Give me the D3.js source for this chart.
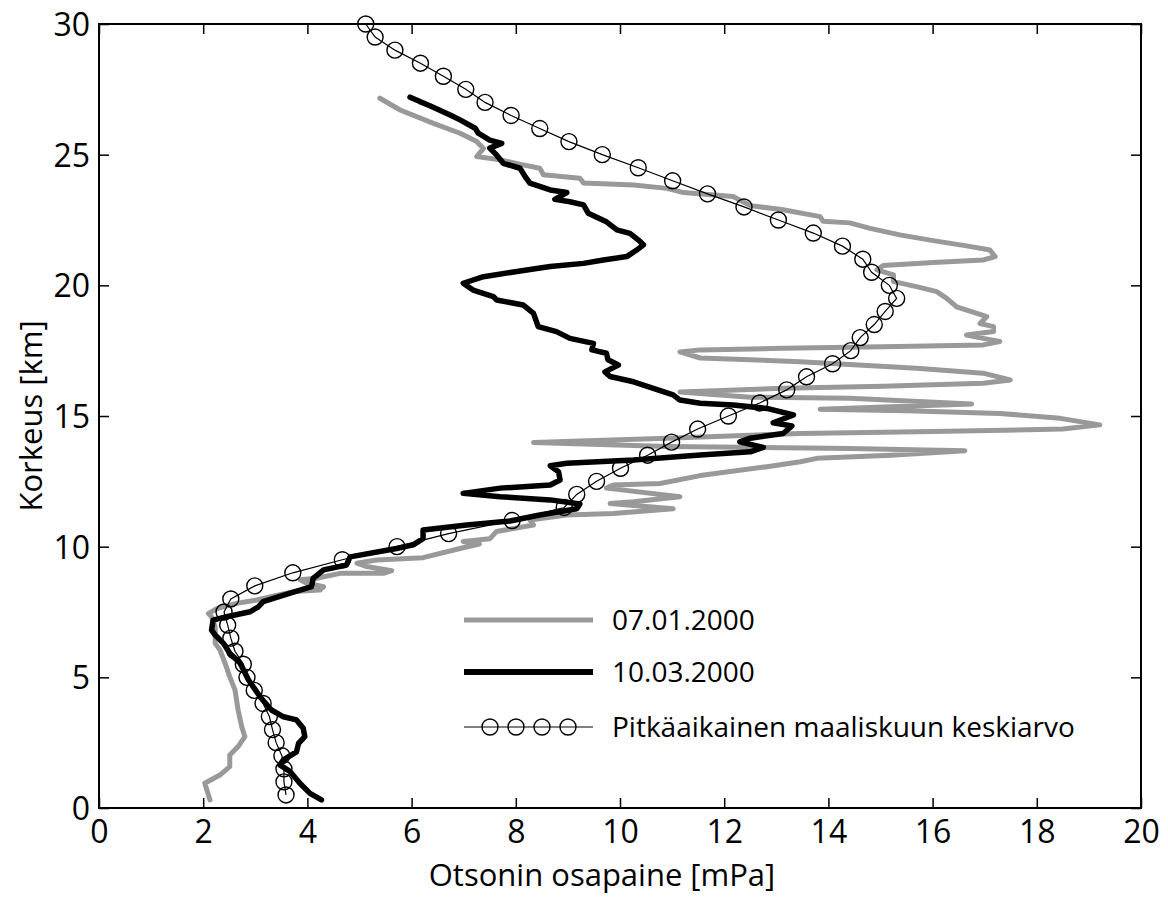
<!DOCTYPE html>
<html>
<head>
<meta charset="utf-8">
<script src="https://cdn.jsdelivr.net/npm/d3@7"></script>
<style>
  body { margin: 0; background: #fff; }
  #chart { width: 1168px; height: 897px; }
  text { font-family: "Open Sans", sans-serif; fill: #000; }
</style>
</head>
<body>
<div id="chart"></div>
<script>
// Tick labels of both axes
const xTicks = [0, 2, 4, 6, 8, 10, 12, 14, 16, 18, 20]
const yTicks = [0, 5, 10, 15, 20, 25, 30]

// Series names (legend)
const seriesNames = ["07.01.2000", "10.03.2000", "Pitkäaikainen maaliskuun keskiarvo"]

// Ozone sounding 07.01.2000, [partial pressure mPa, altitude km]
const sounding0701 = [
  [5.39,27.16],[5.78,26.71],[6.42,26.20],[6.93,25.82],[7.25,25.50],[7.38,25.24],[7.25,24.93],
  [7.70,24.80],[8.14,24.61],[8.46,24.48],[8.53,24.23],[9.23,24.10],[9.30,23.92],[10.26,23.84],
  [10.90,23.71],[11.22,23.55],[12.17,23.40],[12.50,23.05],[13.13,22.89],[13.84,22.63],[13.90,22.45],
  [14.41,22.39],[14.80,22.18],[15.37,21.93],[16.01,21.71],[16.65,21.51],[17.10,21.35],[17.20,21.10],
  [16.97,20.97],[16.01,20.87],[15.05,20.76],[14.93,20.59],[15.25,20.40],[15.25,20.14],[15.69,19.95],
  [16.08,19.76],[16.27,19.50],[16.46,19.18],[16.85,18.93],[17.04,18.80],[16.91,18.54],[17.17,18.42],
  [17.17,18.23],[16.65,18.10],[16.97,17.97],[17.29,17.85],[16.97,17.72],[15.05,17.65],[13.13,17.59],
  [11.54,17.53],[11.15,17.45],[11.54,17.22],[13.46,17.08],[15.69,16.83],[16.97,16.64],[17.49,16.38],
  [16.97,16.25],[15.05,16.14],[13.13,16.06],[11.15,15.92],[12.50,15.72],[14.41,15.68],[16.75,15.46],
  [15.20,15.35],[13.84,15.26],[15.50,15.20],[17.29,15.10],[18.45,14.91],[19.21,14.66],[18.50,14.50],
  [16.01,14.41],[13.46,14.33],[10.90,14.15],[8.34,13.99],[10.90,13.83],[14.41,13.76],[16.62,13.67],
  [15.20,13.50],[13.78,13.38],[13.46,13.25],[12.82,13.06],[11.54,12.72],[10.77,12.42],[9.87,12.36],
  [9.74,12.24],[11.15,11.91],[10.26,11.72],[9.81,11.65],[11.02,11.45],[9.87,11.27],[8.98,11.21],
  [8.27,11.02],[8.34,10.83],[7.63,10.58],[7.50,10.30],[6.99,10.20],[7.30,10.10],[6.93,9.93],
  [6.22,9.58],[5.33,9.49],[4.95,9.37],[5.14,9.24],[5.62,9.08],[5.46,8.98],[4.63,8.98],[4.18,8.79],
  [3.86,8.73],[3.99,8.60],[4.31,8.47],[4.24,8.34],[3.73,8.28],[3.28,8.08],[3.03,7.96],[2.64,7.83],
  [2.26,7.63],[2.10,7.44],[2.16,7.32],[2.23,6.93],[2.23,6.30],[2.32,6.05],[2.42,5.54],[2.51,5.02],
  [2.61,4.52],[2.67,3.75],[2.74,3.11],[2.80,2.73],[2.67,2.35],[2.51,2.03],[2.51,1.58],[2.32,1.26],
  [2.03,0.95],[2.13,0.31]
]

// Ozone sounding 10.03.2000, [partial pressure mPa, altitude km]
const sounding1003 = [
  [5.97,27.20],[6.16,27.03],[6.35,26.87],[6.74,26.52],[6.93,26.33],[7.22,26.01],[7.28,25.82],
  [7.50,25.56],[7.73,25.43],[7.50,25.25],[7.63,24.99],[7.76,24.67],[8.08,24.48],[8.18,24.16],
  [8.27,23.91],[8.66,23.65],[8.98,23.55],[8.75,23.29],[9.04,23.20],[9.30,23.08],[9.39,22.76],
  [9.74,22.43],[9.94,22.12],[10.19,21.99],[10.35,21.74],[10.45,21.55],[10.32,21.35],[10.13,21.10],
  [9.68,20.97],[9.30,20.84],[8.66,20.72],[8.02,20.53],[7.38,20.33],[6.99,20.08],[7.18,19.82],
  [7.57,19.57],[7.63,19.44],[8.14,19.25],[8.34,18.93],[8.43,18.42],[8.78,18.23],[9.04,17.97],
  [9.49,17.78],[9.46,17.53],[9.74,17.40],[9.77,17.15],[9.97,16.95],[9.71,16.69],[9.81,16.51],
  [10.26,16.31],[10.64,16.06],[11.02,15.81],[11.15,15.61],[11.54,15.49],[12.17,15.42],[12.82,15.29],
  [13.33,15.04],[12.94,14.74],[13.30,14.62],[13.13,14.33],[12.50,14.15],[12.30,14.01],[12.75,13.80],
  [12.50,13.63],[11.54,13.51],[10.26,13.32],[8.98,13.19],[8.66,13.10],[8.82,12.87],[8.85,12.55],
  [8.66,12.36],[7.70,12.24],[6.99,12.04],[7.70,11.91],[8.66,11.79],[9.23,11.63],[9.17,11.45],
  [8.46,11.21],[7.89,10.98],[7.06,10.83],[6.22,10.64],[6.22,10.31],[6.03,10.07],[5.71,9.93],
  [4.82,9.61],[4.75,9.30],[4.31,9.11],[4.11,8.79],[4.08,8.47],[3.67,8.22],[3.15,7.90],[3.06,7.70],
  [2.90,7.51],[2.45,7.32],[2.19,7.19],[2.16,6.81],[2.23,6.62],[2.39,6.30],[2.51,5.92],[2.71,5.54],
  [2.87,4.90],[3.09,4.26],[3.31,3.75],[3.54,3.49],[3.79,3.37],[3.92,3.05],[3.95,2.73],[3.83,2.47],
  [3.79,2.15],[3.54,1.84],[3.47,1.65],[3.67,1.39],[3.86,0.94],[4.05,0.56],[4.27,0.31]
]

// Long-term March mean: altitudes and values
const meanAltitude = [0.5,1,1.5,2,2.5,3,3.5,4,4.5,5,5.5,6,6.5,7,7.5,8,8.5,9,9.5,10,
  10.5,11,11.5,12,12.5,13,13.5,14,14.5,15,15.5,16,16.5,17,17.5,18,18.5,19,19.5,20,
  20.5,21,21.5,22,22.5,23,23.5,24,24.5,25,25.5,26,26.5,27,27.5,28,28.5,29,29.5,30]
const meanOzone = [3.59,3.55,3.55,3.51,3.40,3.33,3.27,3.15,2.98,2.84,2.77,2.61,2.53,2.47,2.40,2.53,2.99,3.72,4.67,5.72,
  6.71,7.93,8.93,9.17,9.55,10.01,10.53,10.99,11.49,12.08,12.68,13.20,13.58,14.08,14.43,14.61,14.88,15.09,15.31,15.17,
  14.83,14.66,14.27,13.71,13.04,12.38,11.68,11.01,10.35,9.66,9.02,8.46,7.91,7.41,7.04,6.61,6.17,5.68,5.30,5.12]

const meanData = meanAltitude.map((a, i) => [meanOzone[i], a])

const width = 1168
const height = 897
const margin = {left: 99, right: 27, top: 24, bottom: 89}
const plotW = width - margin.left - margin.right
const plotH = height - margin.top - margin.bottom

const svg = d3.select("#chart")
              .append("svg")
              .attr("width", width)
              .attr("height", height)

const g = svg.append("g")
             .attr("transform", `translate(${margin.left},${margin.top})`)

// Scales
const xScale = d3.scaleLinear().domain([0, 20]).range([0, plotW])
const yScale = d3.scaleLinear().domain([0, 30]).range([plotH, 0])

const line = d3.line().x(d => xScale(d[0])).y(d => yScale(d[1]))

// Clip lines to plot area
g.append("clipPath").attr("id", "clip")
 .append("rect").attr("width", plotW).attr("height", plotH)

const lines = g.append("g").attr("clip-path", "url(#clip)")

lines.append("path")
     .datum(sounding0701)
     .attr("d", line)
     .attr("fill", "none")
     .attr("stroke", "#999999")
     .attr("stroke-width", 5)
     .attr("stroke-linejoin", "round")
     .attr("stroke-linecap", "round")

lines.append("path")
     .datum(sounding1003)
     .attr("d", line)
     .attr("fill", "none")
     .attr("stroke", "#000")
     .attr("stroke-width", 5.5)
     .attr("stroke-linejoin", "round")
     .attr("stroke-linecap", "round")

// Mean profile with circle markers
g.append("path")
 .datum(meanData)
 .attr("d", line)
 .attr("fill", "none")
 .attr("stroke", "#000")
 .attr("stroke-width", 1.2)

g.selectAll("circle.mean")
 .data(meanData)
 .enter()
 .append("circle")
 .attr("class", "mean")
 .attr("cx", d => xScale(d[0]))
 .attr("cy", d => yScale(d[1]))
 .attr("r", 8)
 .attr("fill", "none")
 .attr("stroke", "#000")
 .attr("stroke-width", 1.4)

// Axes, ticks pointing inwards on all sides
const fontSize = 32
const xAxis = d3.axisBottom(xScale).tickValues(xTicks).tickSize(-10).tickSizeOuter(0).tickPadding(12)
const yAxis = d3.axisLeft(yScale).tickValues(yTicks).tickSize(-10).tickSizeOuter(0).tickPadding(9)

const gx = g.append("g").attr("transform", `translate(0,${plotH})`).call(xAxis)
const gy = g.append("g").call(yAxis)
g.append("g").call(d3.axisTop(xScale).tickValues(xTicks).tickSize(-10).tickSizeOuter(0).tickFormat(""))
g.append("g").attr("transform", `translate(${plotW},0)`)
 .call(d3.axisRight(yScale).tickValues(yTicks).tickSize(-10).tickSizeOuter(0).tickFormat(""))

g.selectAll(".domain").remove()
g.selectAll(".tick line").attr("stroke", "#000").attr("stroke-width", 1.5)
gx.selectAll("text").attr("font-size", fontSize).attr("font-family", "Open Sans")
gy.selectAll("text").attr("font-size", fontSize).attr("font-family", "Open Sans").attr("dy", "0.36em")

// Frame
g.append("rect")
 .attr("width", plotW)
 .attr("height", plotH)
 .attr("fill", "none")
 .attr("stroke", "#000")
 .attr("stroke-width", 2)

// Axis titles
svg.append("text")
   .attr("x", margin.left + plotW / 2 - 18)
   .attr("y", 886)
   .attr("text-anchor", "middle")
   .attr("font-size", 31)
   .text("Otsonin osapaine [mPa]")

svg.append("text")
   .attr("transform", `translate(42,${margin.top + 392}) rotate(-90)`)
   .attr("text-anchor", "middle")
   .attr("font-size", 31)
   .text("Korkeus [km]")

// Legend
const legend = svg.append("g").attr("id", "legend")
const legendY = [620, 672, 727]
const legendStyles = [
  {stroke: "#999999", w: 5},
  {stroke: "#000", w: 6},
  {stroke: "#000", w: 1.2}
]
seriesNames.forEach((name, i) => {
  legend.append("line")
        .attr("x1", 464).attr("x2", 593)
        .attr("y1", legendY[i]).attr("y2", legendY[i])
        .attr("stroke", legendStyles[i].stroke)
        .attr("stroke-width", legendStyles[i].w)
  legend.append("text")
        .attr("x", 612)
        .attr("y", legendY[i])
        .attr("dy", "0.36em")
        .attr("font-size", 28)
        .text(name)
})
legend.selectAll("circle")
      .data([490, 516, 542, 568])
      .enter()
      .append("circle")
      .attr("cx", d => d)
      .attr("cy", legendY[2])
      .attr("r", 8)
      .attr("fill", "none")
      .attr("stroke", "#000")
      .attr("stroke-width", 1.4)
</script>
</body>
</html>
